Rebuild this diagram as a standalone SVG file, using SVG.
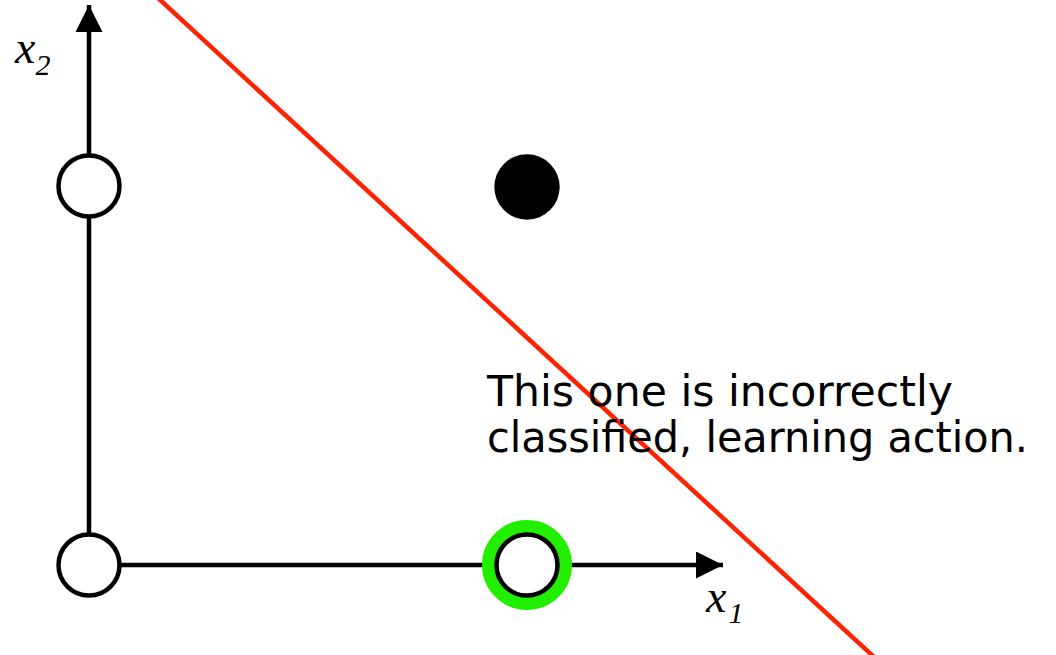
<svg xmlns="http://www.w3.org/2000/svg" width="1056" height="655" viewBox="0 0 1056 655">
<style>
.ax{stroke:#000;stroke-width:4.5;fill:none}
.open{fill:#fff;stroke:#000;stroke-width:4.5}
.lbl{font-family:"Liberation Serif",serif;font-style:italic;fill:#000}
.note{font-family:"DejaVu Sans",Verdana,sans-serif;font-size:43px;fill:#000}
</style>
<defs>
<marker id="ah" viewBox="0 0 6 6" refX="6" refY="3" markerWidth="6" markerHeight="6" markerUnits="strokeWidth" orient="auto">
<path d="M0,0 L6,3 L0,6 z" fill="#000"/>
</marker>
</defs>
<g id="connectors">
<line class="ax" x1="89" y1="565" x2="89" y2="5" marker-end="url(#ah)"/>
<line class="ax" x1="89" y1="565" x2="723" y2="565" marker-end="url(#ah)"/>
<line x1="158" y1="-2" x2="874" y2="657" stroke="#ff2200" stroke-width="4.5"/>
</g>
<g id="n1"><circle class="open" cx="89" cy="186" r="30.5"/></g>
<g id="n2"><circle class="open" cx="89" cy="565" r="30.5"/></g>
<g id="n3"><circle cx="527" cy="565" r="38.5" fill="none" stroke="#22ee00" stroke-width="13"/><circle class="open" cx="527" cy="565" r="30.5"/></g>
<g id="n4"><circle cx="527" cy="187" r="32.7" fill="#000"/></g>
<text class="lbl" x="15" y="63" font-size="46">x<tspan font-size="30" dy="12">2</tspan></text>
<text class="lbl" x="706" y="612" font-size="46">x<tspan font-size="30" dy="11" dx="2">1</tspan></text>
<text class="note" x="487" y="406" textLength="466" lengthAdjust="spacingAndGlyphs">This one is incorrectly</text>
<text class="note" x="487" y="452" textLength="541" lengthAdjust="spacingAndGlyphs">classified, learning action.</text>
</svg>
